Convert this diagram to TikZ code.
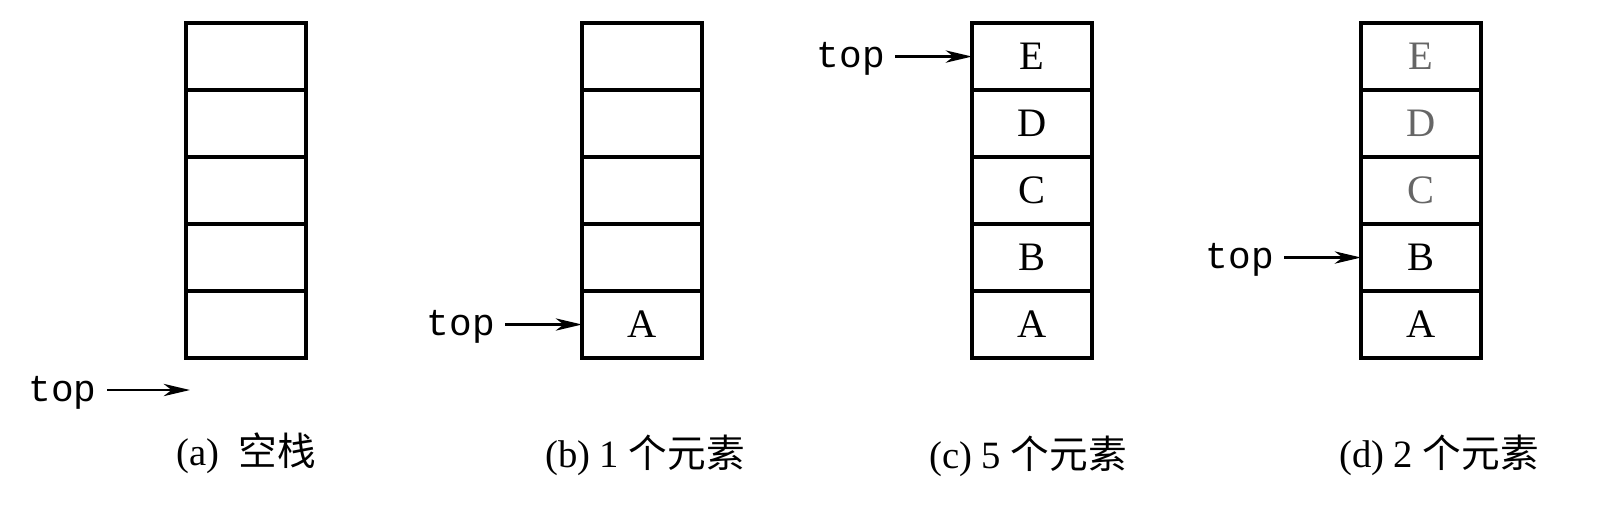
\documentclass[tikz,border=0pt]{standalone}
\usepackage{fontspec}
\setmainfont{Liberation Serif}
\setmonofont{Liberation Mono}
\newfontfamily\cjk{Noto Sans CJK SC}
\usetikzlibrary{arrows.meta,positioning,chains}

\begin{document}
\begin{tikzpicture}[x=0.02cm,y=-0.02cm,
  cell/.style={draw,rectangle,line width=2.2pt,minimum width=2.4cm,
    minimum height=1.34cm,inner sep=0pt,outer sep=0pt,
    font=\fontsize{23}{25}\selectfont},
  popped/.style={text=black!60},
  toplbl/.style={inner xsep=0.2cm,inner ysep=0pt,anchor=base east,
    yshift=-0.22cm,font=\fontsize{21.5}{25}\ttfamily},
  ptr/.style={line width=1.3pt,-{Stealth[length=15pt,width=7pt,inset=4.5pt]}},
  caption/.style={font=\fontsize{22}{26}\selectfont}
  ]
  \useasboundingbox (0,0) rectangle (1599,515);

  % (a) the empty stack
  \begin{scope}[shift={(246,324.5)},start chain=going above,node distance=0pt]
  \foreach \i in {1,2,...,5}
  \node[cell,on chain] (a\i) {};
  \end{scope}
  \coordinate (pa) at (190,390);
  \node[left=1.66cm of pa,toplbl] (ta) {top};
  \draw[ptr] (ta.east |- pa) -- (pa);

  % (b) one element
  \begin{scope}[shift={(642,324.5)},start chain=going above,node distance=0pt]
  \foreach \i/\t in {1/A,2/,3/,4/,5/}
  \node[cell,on chain] (b\i) {\t};
  \end{scope}
  \node[left=1.54cm of b1.west,toplbl] (tb) {top};
  \draw[ptr] (tb.east |- b1.west) -- (b1.west);

  % (c) five elements
  \begin{scope}[shift={(1032,324.5)},start chain=going above,node distance=0pt]
  \foreach \i/\t in {1/A,2/B,3/C,4/D,5/E}
  \node[cell,on chain] (c\i) {\t};
  \end{scope}
  \node[left=1.54cm of c5.west,toplbl] (tc) {top};
  \draw[ptr] (tc.east |- c5.west) -- (c5.west);

  % (d) two elements, the rest popped
  \begin{scope}[shift={(1421,324.5)},start chain=going above,node distance=0pt]
  \foreach \i/\t in {1/A,2/B}
  \node[cell,on chain] (d\i) {\t};
  \foreach \i/\t in {3/C,4/D,5/E}
  \node[cell,popped,on chain] (d\i) {\t};
  \end{scope}
  \node[left=1.54cm of d2.west,toplbl] (td) {top};
  \draw[ptr] (td.east |- d2.west) -- (d2.west);

  % the captions
  \node[caption] (capa) at (246,453) {(a)\ \ {\cjk 空栈}};
  \node[caption] (capb) at (645,455) {(b) 1 {\cjk 个元素}};
  \node[caption] (capc) at (1028,456) {(c) 5 {\cjk 个元素}};
  \node[caption] (capd) at (1439,455) {(d) 2 {\cjk 个元素}};
\end{tikzpicture}
\end{document}
